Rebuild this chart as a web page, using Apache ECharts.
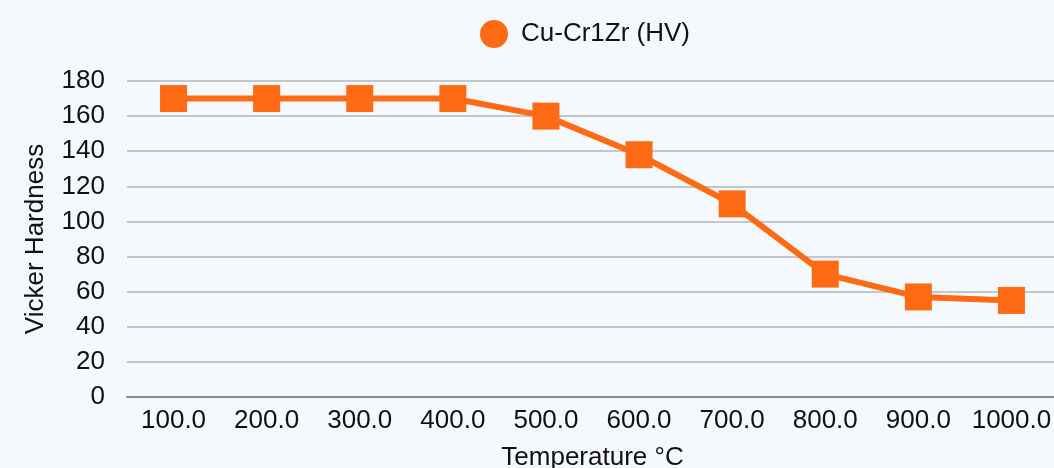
<!DOCTYPE html>
<html>
<head>
<meta charset="utf-8">
<script src="https://cdn.jsdelivr.net/npm/echarts@6/dist/echarts.min.js"></script>
<style>
  html, body { margin: 0; padding: 0; background: #f5f8fc; }
  #chart { width: 1054px; height: 468px; }
</style>
</head>
<body>
<div id="chart"></div>
<script>
const temperatures = ['100.0', '200.0', '300.0', '400.0', '500.0', '600.0', '700.0', '800.0', '900.0', '1000.0']
const hardness = [170, 170, 170, 170, 160, 138, 110, 70, 57, 55]

const chart = echarts.init(document.getElementById('chart'))
const font = 'Liberation Sans, Arial, sans-serif'

chart.setOption({
  backgroundColor: '#f5f8fc',
  textStyle: { fontFamily: font },
  legend: {
    top: 15,
    left: 475,
    icon: 'circle',
    itemWidth: 28,
    itemHeight: 28,
    itemGap: 10,
    textStyle: { fontSize: 26, color: '#111', fontFamily: font, padding: [0, 0, 0, 8] },
    data: ['Cu-Cr1Zr (HV)'],
  },
  grid: {
    left: 127,
    right: -4,
    top: 81,
    bottom: 71,
    containLabel: false,
    outerBoundsMode: 'none',
  },
  xAxis: {
    type: 'category',
    data: temperatures,
    name: 'Temperature °C',
    nameLocation: 'middle',
    nameGap: 48,
    nameTextStyle: { fontSize: 26, color: '#111', fontFamily: font },
    axisTick: { show: false },
    axisLine: { lineStyle: { color: '#8a8a8a', width: 2 } },
    axisLabel: { fontSize: 26, color: '#111', margin: 11, interval: 0, fontFamily: font },
  },
  yAxis: {
    type: 'value',
    min: 0,
    max: 180,
    interval: 20,
    name: 'Vicker Hardness',
    nameLocation: 'middle',
    nameGap: 78,
    nameTextStyle: { fontSize: 26, color: '#111', fontFamily: font },
    axisLine: { show: false },
    axisTick: { show: false },
    axisLabel: { fontSize: 26, color: '#111', margin: 22, fontFamily: font },
    splitLine: { lineStyle: { color: '#c4c6c9', width: 2 } },
  },
  series: [
    {
      name: 'Cu-Cr1Zr (HV)',
      type: 'line',
      data: hardness,
      symbol: 'rect',
      symbolSize: 27,
      itemStyle: { color: '#ff6b14' },
      lineStyle: { color: '#ff6b14', width: 6 },
      animation: false,
    },
  ],
})
</script>
</body>
</html>
